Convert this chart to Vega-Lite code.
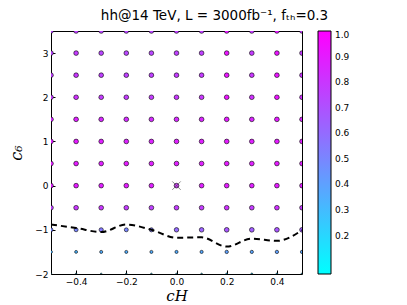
{
"$schema": "https://vega.github.io/schema/vega-lite/v6.json",
"width": 251, "height": 243,
"autosize": {"type": "none"},
"padding": {"left": 51, "top": 31, "right": 105, "bottom": 31},
"background": "white",
"config": {
  "view": {"stroke": "black", "strokeWidth": 1},
  "font": "DejaVu Sans",
  "axis": {"domain": false, "grid": false, "labelColor": "black", "tickColor": "black", "labelFontSize": 9, "labelFont": "DejaVu Sans", "tickSize": -4, "labelPadding": 7, "titleColor": "black"}
},
"title": {"text": "hh@14 TeV, L = 3000fb⁻¹, fₜₕ=0.3", "fontSize": 13.5, "fontWeight": "normal", "font": "DejaVu Sans", "color": "black", "offset": 9, "dx": 38},
"datasets": {
  "grid": [
{"cH":-0.5,"c6":3.5,"f":0.74},{"cH":-0.4,"c6":3.5,"f":0.76},{"cH":-0.3,"c6":3.5,"f":0.74},{"cH":-0.2,"c6":3.5,"f":0.74},{"cH":-0.1,"c6":3.5,"f":0.74},{"cH":0,"c6":3.5,"f":0.76},{"cH":0.1,"c6":3.5,"f":0.76},{"cH":0.2,"c6":3.5,"f":0.9},{"cH":0.3,"c6":3.5,"f":0.78},{"cH":0.4,"c6":3.5,"f":0.9},{"cH":0.5,"c6":3.5,"f":0.78},
{"cH":-0.5,"c6":3,"f":0.74},{"cH":-0.4,"c6":3,"f":0.78},{"cH":-0.3,"c6":3,"f":0.74},{"cH":-0.2,"c6":3,"f":0.74},{"cH":-0.1,"c6":3,"f":0.74},{"cH":0,"c6":3,"f":0.76},{"cH":0.1,"c6":3,"f":0.76},{"cH":0.2,"c6":3,"f":0.92},{"cH":0.3,"c6":3,"f":0.78},{"cH":0.4,"c6":3,"f":0.92},{"cH":0.5,"c6":3,"f":0.78},
{"cH":-0.5,"c6":2.5,"f":0.76},{"cH":-0.4,"c6":2.5,"f":0.8},{"cH":-0.3,"c6":2.5,"f":0.76},{"cH":-0.2,"c6":2.5,"f":0.76},{"cH":-0.1,"c6":2.5,"f":0.76},{"cH":0,"c6":2.5,"f":0.78},{"cH":0.1,"c6":2.5,"f":0.78},{"cH":0.2,"c6":2.5,"f":0.92},{"cH":0.3,"c6":2.5,"f":0.8},{"cH":0.4,"c6":2.5,"f":0.92},{"cH":0.5,"c6":2.5,"f":0.8},
{"cH":-0.5,"c6":2,"f":0.78},{"cH":-0.4,"c6":2,"f":0.82},{"cH":-0.3,"c6":2,"f":0.78},{"cH":-0.2,"c6":2,"f":0.78},{"cH":-0.1,"c6":2,"f":0.78},{"cH":0,"c6":2,"f":0.8},{"cH":0.1,"c6":2,"f":0.8},{"cH":0.2,"c6":2,"f":0.93},{"cH":0.3,"c6":2,"f":0.82},{"cH":0.4,"c6":2,"f":0.93},{"cH":0.5,"c6":2,"f":0.82},
{"cH":-0.5,"c6":1.5,"f":0.84},{"cH":-0.4,"c6":1.5,"f":0.88},{"cH":-0.3,"c6":1.5,"f":0.85},{"cH":-0.2,"c6":1.5,"f":0.84},{"cH":-0.1,"c6":1.5,"f":0.84},{"cH":0,"c6":1.5,"f":0.85},{"cH":0.1,"c6":1.5,"f":0.86},{"cH":0.2,"c6":1.5,"f":0.9},{"cH":0.3,"c6":1.5,"f":0.86},{"cH":0.4,"c6":1.5,"f":0.9},{"cH":0.5,"c6":1.5,"f":0.86},
{"cH":-0.5,"c6":1,"f":0.88},{"cH":-0.4,"c6":1,"f":0.9},{"cH":-0.3,"c6":1,"f":0.88},{"cH":-0.2,"c6":1,"f":0.87},{"cH":-0.1,"c6":1,"f":0.87},{"cH":0,"c6":1,"f":0.88},{"cH":0.1,"c6":1,"f":0.88},{"cH":0.2,"c6":1,"f":0.9},{"cH":0.3,"c6":1,"f":0.88},{"cH":0.4,"c6":1,"f":0.9},{"cH":0.5,"c6":1,"f":0.88},
{"cH":-0.5,"c6":0.5,"f":0.88},{"cH":-0.4,"c6":0.5,"f":0.9},{"cH":-0.3,"c6":0.5,"f":0.88},{"cH":-0.2,"c6":0.5,"f":0.9},{"cH":-0.1,"c6":0.5,"f":0.88},{"cH":0,"c6":0.5,"f":0.88},{"cH":0.1,"c6":0.5,"f":0.88},{"cH":0.2,"c6":0.5,"f":0.9},{"cH":0.3,"c6":0.5,"f":0.88},{"cH":0.4,"c6":0.5,"f":0.9},{"cH":0.5,"c6":0.5,"f":0.88},
{"cH":-0.5,"c6":0,"f":0.88},{"cH":-0.4,"c6":0,"f":0.9},{"cH":-0.3,"c6":0,"f":0.88},{"cH":-0.2,"c6":0,"f":0.9},{"cH":-0.1,"c6":0,"f":0.88},{"cH":0,"c6":0,"f":0.82},{"cH":0.1,"c6":0,"f":0.88},{"cH":0.2,"c6":0,"f":0.9},{"cH":0.3,"c6":0,"f":0.88},{"cH":0.4,"c6":0,"f":0.9},{"cH":0.5,"c6":0,"f":0.88},
{"cH":-0.5,"c6":-0.5,"f":0.76},{"cH":-0.4,"c6":-0.5,"f":0.8},{"cH":-0.3,"c6":-0.5,"f":0.8},{"cH":-0.2,"c6":-0.5,"f":0.78},{"cH":-0.1,"c6":-0.5,"f":0.76},{"cH":0,"c6":-0.5,"f":0.78},{"cH":0.1,"c6":-0.5,"f":0.78},{"cH":0.2,"c6":-0.5,"f":0.82},{"cH":0.3,"c6":-0.5,"f":0.78},{"cH":0.4,"c6":-0.5,"f":0.82},{"cH":0.5,"c6":-0.5,"f":0.78},
{"cH":-0.5,"c6":-1,"f":0.5},{"cH":-0.4,"c6":-1,"f":0.5},{"cH":-0.3,"c6":-1,"f":0.55},{"cH":-0.2,"c6":-1,"f":0.5},{"cH":-0.1,"c6":-1,"f":0.53},{"cH":0,"c6":-1,"f":0.6},{"cH":0.1,"c6":-1,"f":0.63},{"cH":0.2,"c6":-1,"f":0.68},{"cH":0.3,"c6":-1,"f":0.65},{"cH":0.4,"c6":-1,"f":0.68},{"cH":0.5,"c6":-1,"f":0.65},
{"cH":-0.5,"c6":-1.5,"f":0.33},{"cH":-0.4,"c6":-1.5,"f":0.33},{"cH":-0.3,"c6":-1.5,"f":0.35},{"cH":-0.2,"c6":-1.5,"f":0.35},{"cH":-0.1,"c6":-1.5,"f":0.35},{"cH":0,"c6":-1.5,"f":0.36},{"cH":0.1,"c6":-1.5,"f":0.37},{"cH":0.2,"c6":-1.5,"f":0.4},{"cH":0.3,"c6":-1.5,"f":0.38},{"cH":0.4,"c6":-1.5,"f":0.4},{"cH":0.5,"c6":-1.5,"f":0.38},
{"cH":-0.5,"c6":-2,"f":0.2},{"cH":-0.4,"c6":-2,"f":0.2},{"cH":-0.3,"c6":-2,"f":0.2},{"cH":-0.2,"c6":-2,"f":0.2},{"cH":-0.1,"c6":-2,"f":0.2},{"cH":0,"c6":-2,"f":0.2},{"cH":0.1,"c6":-2,"f":0.2},{"cH":0.2,"c6":-2,"f":0.22},{"cH":0.3,"c6":-2,"f":0.22},{"cH":0.4,"c6":-2,"f":0.22},{"cH":0.5,"c6":-2,"f":0.22}
  ],
  "contour": [
{"cH":-0.5,"c6":-0.88},{"cH":-0.4,"c6":-0.96},{"cH":-0.3,"c6":-1.05},{"cH":-0.2,"c6":-0.88},{"cH":-0.1,"c6":-1.0},{"cH":0,"c6":-1.18},{"cH":0.1,"c6":-1.17},{"cH":0.2,"c6":-1.38},{"cH":0.3,"c6":-1.2},{"cH":0.4,"c6":-1.25},{"cH":0.5,"c6":-1.01}
  ],
  "sm": [{"cH":0,"c6":0}]
},
"encoding": {
  "x": {"field": "cH", "type": "quantitative", "scale": {"domain": [-0.5, 0.5], "nice": false, "zero": false},
        "axis": {"values": [-0.4, -0.2, 0, 0.2, 0.4], "format": ".1f", "title": "cH", "titleFont": "DejaVu Serif", "titleFontStyle": "italic", "titleFontWeight": "normal", "titleFontSize": 15, "titlePadding": 2}},
  "y": {"field": "c6", "type": "quantitative", "scale": {"domain": [-2, 3.5], "nice": false, "zero": false},
        "axis": {"values": [-2, -1, 0, 1, 2, 3], "format": "d", "title": "c₆", "titleFont": "DejaVu Serif", "titleFontStyle": "italic", "titleFontWeight": "normal", "titleFontSize": 16, "titlePadding": 10}}
},
"layer": [
  {"data": {"name": "grid"},
   "mark": {"type": "point", "filled": true, "stroke": "black", "strokeWidth": 0.6, "opacity": 1, "clip": true},
   "encoding": {
     "color": {"field": "f", "type": "quantitative",
       "scale": {"domain": [0.05, 1.0], "range": ["#00ffff", "#ff00ff"], "interpolate": "rgb"},
       "legend": {"orient": "right", "offset": 16, "title": null, "direction": "vertical", "gradientLength": 243, "gradientThickness": 13, "gradientStrokeColor": "black", "gradientStrokeWidth": 1, "values": [0.2, 0.3, 0.4, 0.5, 0.6, 0.7, 0.8, 0.9, 1.0], "format": ".1f", "labelFontSize": 9, "labelColor": "black", "labelFont": "DejaVu Sans", "labelOffset": 4}},
     "size": {"field": "f", "type": "quantitative", "scale": {"domain": [0.2, 0.65], "range": [3, 22], "clamp": true}, "legend": null}
   }},
  {"data": {"name": "contour"},
   "mark": {"type": "line", "color": "black", "strokeWidth": 2, "strokeDash": [6, 4], "interpolate": "monotone", "clip": true},
   "encoding": {}},
  {"data": {"name": "sm"},
   "mark": {"type": "point", "shape": "M-1,-1L1,1M-1,1L1,-1", "filled": false, "stroke": "#555555", "strokeWidth": 1, "size": 70},
   "encoding": {}}
]
}
